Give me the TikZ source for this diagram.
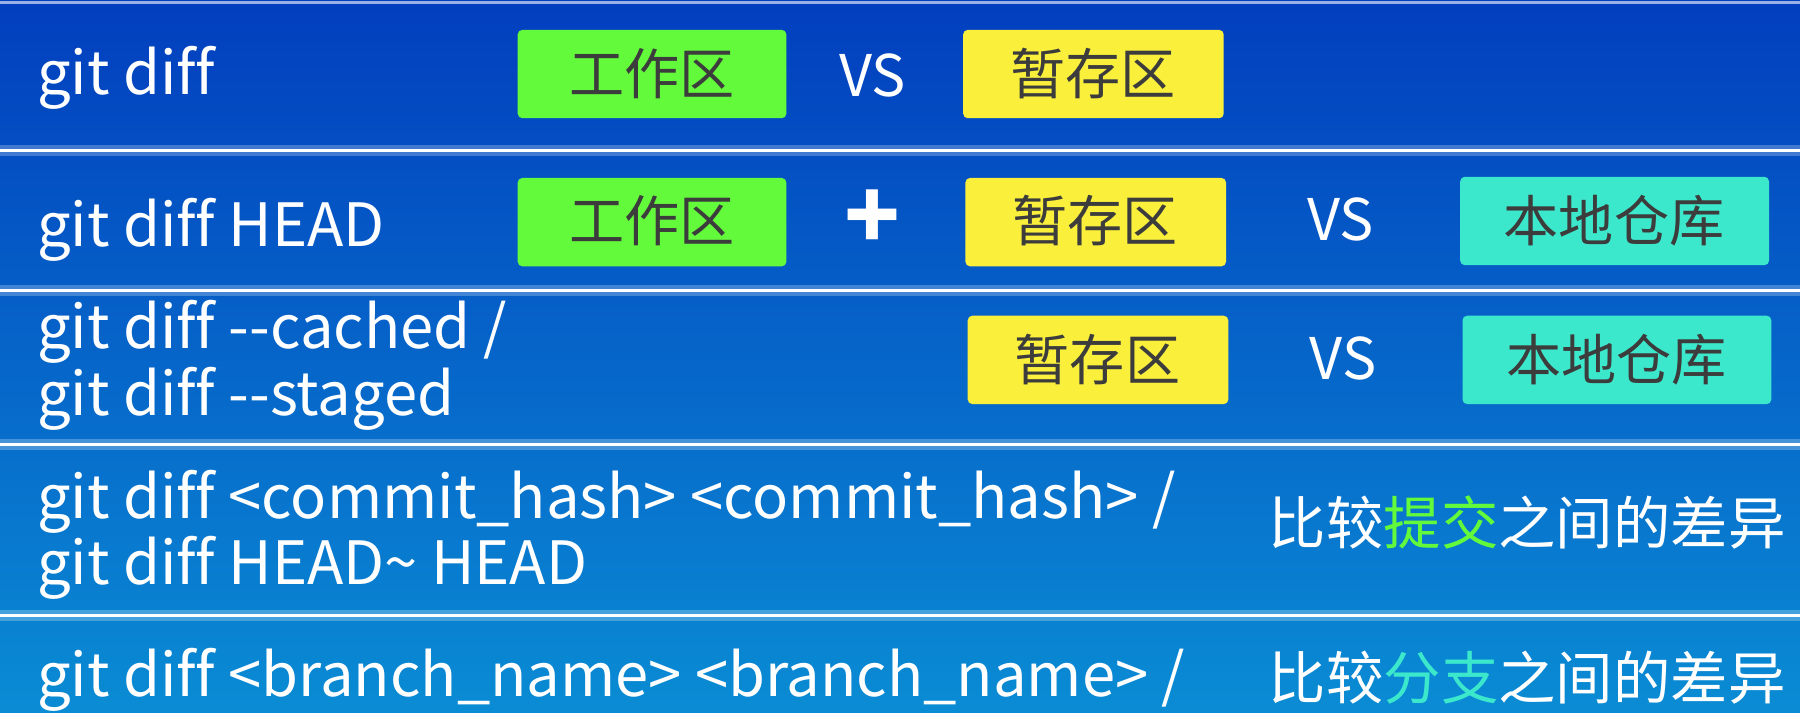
\documentclass[tikz,border=0pt]{standalone}
\usepackage{fontspec}
\setmainfont{Noto Sans CJK SC}[Ligatures={NoCommon,NoRequired},Renderer=Basic]
\definecolor{bgtop}{RGB}{2,62,190}
\definecolor{bgbot}{RGB}{10,140,212}
\definecolor{gbox}{RGB}{100,250,60}
\definecolor{ybox}{RGB}{250,240,60}
\definecolor{cbox}{RGB}{60,232,204}
\definecolor{btxt}{RGB}{60,60,60}
\begin{document}
\begin{tikzpicture}[x=0.5pt,y=-0.5pt,
  cmd/.style={anchor=west,text=white,font=\fontsize{26}{27}\selectfont,align=left,inner sep=0},
  cjk/.style={anchor=west,text=white,font=\fontsize{25}{27}\selectfont,inner sep=0},
  vs/.style={text=white,font=\fontsize{25}{26}\selectfont,inner sep=0},
  box/.style={rounded corners=2pt,text=btxt,font=\fontsize{24}{26}\selectfont,inner sep=0},
  sep/.style={white,line width=1.5pt}]
\shade[top color=bgtop,bottom color=bgbot] (0,0) rectangle (1568,621);
\useasboundingbox (0,0) rectangle (1568,621);
\foreach \y in {131,253,387,536}{
  \draw[white,opacity=0.25,line width=5pt] (0,\y) -- (1568,\y);
  \draw[sep] (0,\y) -- (1568,\y);}
\draw[white,opacity=0.6,line width=1.5pt] (0,2) -- (1568,2);
% row 1
\node[cmd] (c1) at (32,68) {git diff};
\fill[gbox,rounded corners=2pt] (451,26) rectangle (685,103);
\node[box] (g1) at (568,64) {工作区};
\node[vs] (v1) at (760,66) {VS};
\fill[ybox,rounded corners=2pt] (839,26) rectangle (1066,103);
\node[box] (y1) at (952,64) {暂存区};
% row 2
\node[cmd] (c2) at (32,200) {git diff HEAD};
\fill[gbox,rounded corners=2pt] (451,155) rectangle (685,232);
\node[box] (g2) at (568,192) {工作区};
\node[vs,font=\fontsize{40}{40}\selectfont\bfseries] (p2) at (760,191) {+};
\fill[ybox,rounded corners=2pt] (841,155) rectangle (1068,232);
\node[box] (y2) at (954,192) {暂存区};
\node[vs] (v2) at (1168,191) {VS};
\fill[cbox,rounded corners=2pt] (1272,154) rectangle (1541,231);
\node[box] (k2) at (1406,192) {本地仓库};
% row 3
\node[cmd,font=\fontsize{26}{29}\selectfont] (c3) at (32,318) {git diff -{}-cached /\\git diff -{}-staged};
\fill[ybox,rounded corners=2pt] (843,275) rectangle (1070,352);
\node[box] (y3) at (956,313) {暂存区};
\node[vs] (v3) at (1170,312) {VS};
\fill[cbox,rounded corners=2pt] (1274,275) rectangle (1543,352);
\node[box] (k3) at (1408,313) {本地仓库};
% row 4
\node[cmd,font=\fontsize{26}{29}\selectfont] (c4) at (32,466) {git diff <commit\_hash> <commit\_hash> /\\git diff HEAD\textasciitilde{} HEAD};
\node[cjk] (t4) at (1105,455) {比较\textcolor{gbox}{提交}之间的差异};
% row 5
\node[cmd] (c5) at (32,592) {git diff <branch\_name> <branch\_name> /};
\node[cjk] (t5) at (1105,590) {比较\textcolor{cbox}{分支}之间的差异};
\end{tikzpicture}
\end{document}
